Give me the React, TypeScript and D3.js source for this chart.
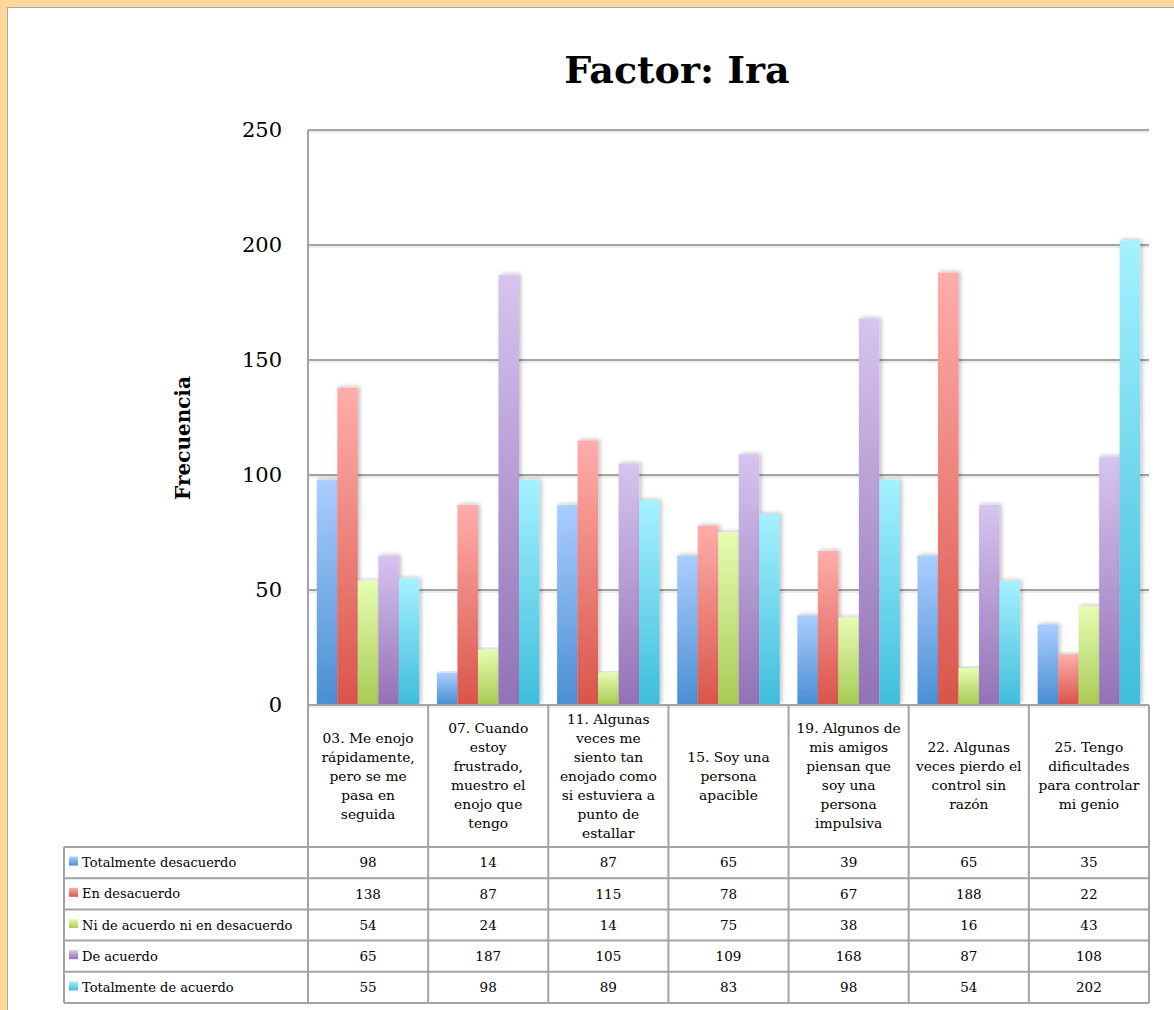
import React from "react";
import * as d3 from "d3";

const categories: string[][] = [
  ["03. Me enojo", "rápidamente,", "pero se me", "pasa en", "seguida"],
  ["07. Cuando", "estoy", "frustrado,", "muestro el", "enojo que", "tengo"],
  ["11. Algunas", "veces me", "siento tan", "enojado como", "si estuviera a", "punto de", "estallar"],
  ["15. Soy una", "persona", "apacible"],
  ["19. Algunos de", "mis amigos", "piensan que", "soy una", "persona", "impulsiva"],
  ["22. Algunas", "veces pierdo el", "control sin", "razón"],
  ["25. Tengo", "dificultades", "para controlar", "mi genio"],
];
const categoryIds = ["03", "07", "11", "15", "19", "22", "25"];

const seriesNames = [
  "Totalmente desacuerdo",
  "En desacuerdo",
  "Ni de acuerdo ni en desacuerdo",
  "De acuerdo",
  "Totalmente de acuerdo",
];
const totalmenteDesacuerdo = [98, 14, 87, 65, 39, 65, 35];
const enDesacuerdo = [138, 87, 115, 78, 67, 188, 22];
const niDeAcuerdo = [54, 24, 14, 75, 38, 16, 43];
const deAcuerdo = [65, 187, 105, 109, 168, 87, 108];
const totalmenteDeAcuerdo = [55, 98, 89, 83, 98, 54, 202];
const seriesValues = [totalmenteDesacuerdo, enDesacuerdo, niDeAcuerdo, deAcuerdo, totalmenteDeAcuerdo];
const yTicks = [0, 50, 100, 150, 200, 250];

const gradTop = ["#abcdff", "#ffadab", "#e6fdb2", "#d7c4ef", "#a5f1ff"];
const gradBottom = ["#4a8fd3", "#d9554a", "#a9cb55", "#9272b6", "#3fbddb"];

const FONT = "'DejaVu Serif', serif";

export default function App() {
  const W = 1174, H = 1010;
  const left = 308, right = 1149, top = 130, bottom = 705;
  const y = d3.scaleLinear().domain([0, 250]).range([bottom, top]);
  const x0 = d3.scaleBand<string>().domain(categoryIds).range([left, right]).padding(0);
  const x1 = d3.scaleBand<string>().domain(seriesNames).range([0, x0.bandwidth()]).paddingInner(0).paddingOuter(0.43);

  const rowTop = 847;
  const rowH = 31.2;
  const tableLeft = 64;
  const gridColor = "#a3a3a3";

  return (
    <svg width={W} height={H} style={{ position: "absolute", left: 0, top: 0 }} fontFamily={FONT}>
      <defs>
        {seriesNames.map((s, i) => (
          <linearGradient key={s} id={`g${i}`} x1="0" y1="0" x2="0" y2="1">
            <stop offset="0" stopColor={gradTop[i]} />
            <stop offset="1" stopColor={gradBottom[i]} />
          </linearGradient>
        ))}
        <filter id="shadow" x="-30%" y="-5%" width="160%" height="110%">
          <feDropShadow dx="2" dy="-1" stdDeviation="2" floodColor="#000" floodOpacity="0.25" />
        </filter>
      </defs>
      {/* frame */}
      <rect x={0} y={0} width={W} height={H} fill="#ffd899" />
      <rect x={7.5} y={7.5} width={W} height={H} fill="#ffffff" stroke="#a8a8a8" strokeWidth={1} />

      {/* title */}
      <text x={677} y={83} textAnchor="middle" fontSize={38} fontWeight="bold" fill="#000">Factor: Ira</text>

      {/* y-axis title */}
      <text transform={`translate(190,438) rotate(-90)`} textAnchor="middle" fontSize={20} fontWeight="bold" fill="#000">Frecuencia</text>

      {/* gridlines */}
      {yTicks.map((t) => (
        <g key={t}>
          <line x1={left} x2={right} y1={y(t) + 2} y2={y(t) + 2} stroke="#000" strokeOpacity={0.07} strokeWidth={2} />
          <line x1={left} x2={right} y1={y(t)} y2={y(t)} stroke={gridColor} strokeWidth={2} />
          <text x={282} y={y(t)} dy="0.35em" textAnchor="end" fontSize={21} fill="#000">{t}</text>
        </g>
      ))}

      {/* bars */}
      {categoryIds.map((c, ci) => (
        <g key={c} transform={`translate(${x0(c)},0)`}>
          {seriesNames.map((s, si) => {
            const v = seriesValues[si][ci];
            return (
              <rect
                key={s}
                x={x1(s)}
                y={y(v)}
                width={x1.bandwidth()}
                height={bottom - 1 - y(v)}
                fill={`url(#g${si})`}
                filter="url(#shadow)"
              />
            );
          })}
        </g>
      ))}

      {/* table lines */}
      <g stroke={gridColor} strokeWidth={2} fill="none">
        <line x1={left} x2={left} y1={top} y2={rowTop + rowH * 5} />
        <line x1={left} x2={right} y1={bottom} y2={bottom} />
        {categoryIds.map((c) => (
          <line key={c} x1={(x0(c) as number) + x0.bandwidth()} x2={(x0(c) as number) + x0.bandwidth()} y1={bottom} y2={rowTop + rowH * 5} />
        ))}
        <line x1={tableLeft} x2={tableLeft} y1={rowTop} y2={rowTop + rowH * 5} />
        {d3.range(6).map((r) => (
          <line key={r} x1={tableLeft} x2={right} y1={rowTop + r * rowH} y2={rowTop + r * rowH} />
        ))}
      </g>

      {/* category labels */}
      {categoryIds.map((c, ci) => {
        const lines = categories[ci];
        const lh = 19;
        const cy = (bottom + rowTop) / 2;
        const startY = cy - ((lines.length - 1) * lh) / 2;
        const cx = (x0(c) as number) + x0.bandwidth() / 2;
        return (
          <text key={c} textAnchor="middle" fontSize={13.8} fill="#000">
            {lines.map((l, li) => (
              <tspan key={li} x={cx} y={startY + li * lh} dy="0.35em">{l}</tspan>
            ))}
          </text>
        );
      })}

      {/* data rows */}
      {seriesNames.map((s, si) => {
        const cy = rowTop + si * rowH + rowH / 2;
        return (
          <g key={s}>
            <rect x={69} y={cy - 6} width={9} height={9} fill={`url(#g${si})`} />
            <text x={82} y={cy} dy="0.35em" fontSize={13} fill="#000">{s}</text>
            {categoryIds.map((c, ci) => (
              <text key={c} x={(x0(c) as number) + x0.bandwidth() / 2} y={cy} dy="0.35em" textAnchor="middle" fontSize={13.5} fill="#000">
                {seriesValues[si][ci]}
              </text>
            ))}
          </g>
        );
      })}
    </svg>
  );
}
